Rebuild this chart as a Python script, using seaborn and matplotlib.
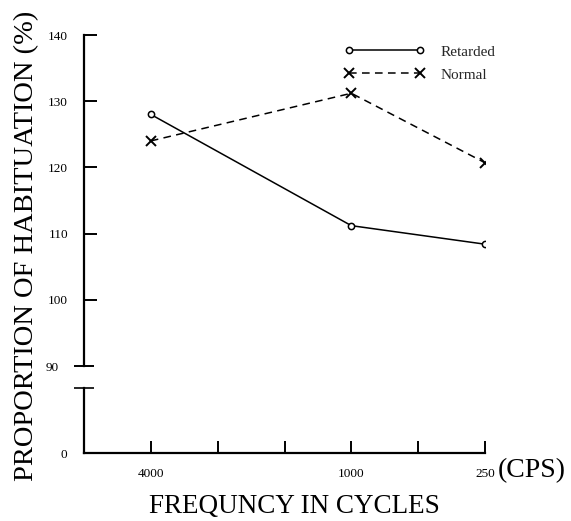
import matplotlib
matplotlib.use("Agg")
import matplotlib.pyplot as plt
import seaborn as sns
import pandas as pd

# ---- data ----
frequencies = ["4000", "1000", "250"]
retarded = [128.0, 111.2, 108.4]
normal = [124.0, 131.2, 120.7]
x_tick_labels = ["", "4000", "", "", "1000", "", "250"]
y_ticks = [100, 110, 120, 130, 140]

sns.set_theme(style="white")
plt.rcParams["font.family"] = ["Liberation Serif", "DejaVu Serif"]

x_pos = [x_tick_labels.index(f) for f in frequencies]
df = pd.DataFrame({"x": x_pos + x_pos,
                   "value": retarded + normal,
                   "group": ["Retarded"] * 3 + ["Normal"] * 3})

W, H = 571, 521
fig = plt.figure(figsize=(W / 100, H / 100), dpi=100)
fig.patch.set_facecolor("white")

L, R = 84 / W, 485 / W
ax = fig.add_axes([L, 1 - 366 / H, R - L, (366 - 35) / H])
axb = fig.add_axes([L, 1 - 453 / H, R - L, (453 - 388) / H], sharex=ax)

for a in (ax, axb):
    a.set_facecolor("none")
    for s in a.spines.values():
        s.set_visible(False)
    a.spines["left"].set_visible(True)
    a.spines["left"].set_color("black")
    a.spines["left"].set_linewidth(1.6)

axb.spines["bottom"].set_visible(True)
axb.spines["bottom"].set_color("black")
axb.spines["bottom"].set_linewidth(1.6)

sns.lineplot(data=df[df.group == "Retarded"], x="x", y="value", ax=ax,
             color="black", lw=1.1, marker="o", markersize=4.5,
             markerfacecolor="white", markeredgecolor="black",
             markeredgewidth=1.1, label="Retarded")
sns.lineplot(data=df[df.group == "Normal"], x="x", y="value", ax=ax,
             color="black", lw=1.1, marker="x", markersize=7,
             markeredgecolor="black", markeredgewidth=1.4,
             dashes=(5, 3.5), label="Normal")

ax.set_xlim(0, len(x_tick_labels) - 1)
ax.set_ylim(90, 140)
ax.set_yticks(y_ticks)
ax.set_yticklabels([str(v) for v in y_ticks])
ax.set_yticks([90], minor=True)
ax.set_yticklabels(["90"], minor=True)
ax.tick_params(axis="y", which="major", direction="in", length=9, width=1.4,
               left=True, labelsize=9.5, pad=11.5, colors="black")
ax.tick_params(axis="y", which="minor", direction="inout", length=14, width=1.4,
               left=True, labelsize=9.5, pad=11.5, colors="black")
ax.tick_params(axis="x", bottom=False, labelbottom=False)
ax.set_xlabel("")
ax.set_ylabel("")

axb.set_ylim(0, 10)
axb.set_yticks([0])
axb.set_yticklabels(["0"])
axb.set_yticks([10], minor=True)
axb.tick_params(axis="y", which="major", direction="in", length=0,
                left=True, labelsize=9.5, pad=12, colors="black")
axb.tick_params(axis="y", which="minor", direction="inout", length=14,
                width=1.4, left=True)
axb.set_xticks(range(1, len(x_tick_labels)))
axb.set_xticklabels(x_tick_labels[1:])
axb.tick_params(axis="x", direction="in", length=9, width=1.4, bottom=True,
                labelsize=9.5, pad=11, colors="black")
axb.set_xlabel("FREQUNCY IN CYCLES", fontsize=19.5, color="black")
axb.xaxis.set_label_coords(0.525, -0.82)
axb.xaxis.label.set_va("center")
axb.set_ylabel("")

fig.text(498 / W, 1 - 471 / H, "(CPS)", fontsize=20, ha="left",
         va="center", color="black")

fig.text(27 / W, 1 - 246 / H, "PROPORTION OF HABITUATION (%)", rotation=90,
         fontsize=20.5, ha="center", va="center", color="black")

ax.legend(loc="upper left", bbox_to_anchor=(344 / W, 1 - 45 / H),
          bbox_transform=fig.transFigure, frameon=False, fontsize=11,
          numpoints=2, handlelength=5.3, handletextpad=1.05,
          labelspacing=0.6, borderpad=0, borderaxespad=0)

fig.savefig("out.png", dpi=100, facecolor="white")
